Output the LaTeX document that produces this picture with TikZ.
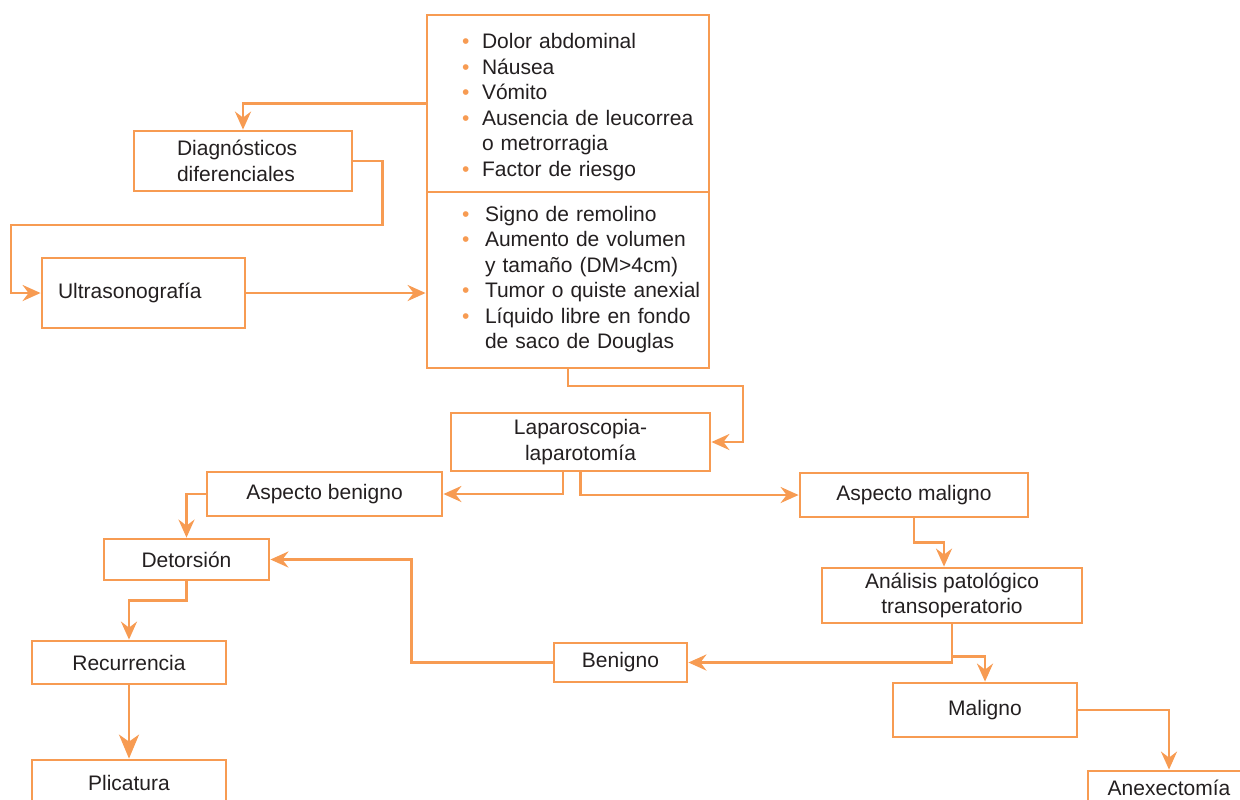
\documentclass[tikz,border=0pt]{standalone}
\usepackage{fontspec}
\setmainfont{Liberation Sans}
\usepackage{tikz}
\usetikzlibrary{positioning}
\usetikzlibrary{arrows.meta}
\definecolor{naranja}{RGB}{247,155,82}
\definecolor{texto}{HTML}{231F20}
\newcommand{\pto}{\makebox[10pt][l]{\textcolor{naranja}{\textbullet}}}
\tikzset{
  caja/.style={draw=naranja, line width=1.4pt, text=texto, align=center, inner sep=0pt,
    font=\fontsize{10.5}{12.75}\selectfont},
  flecha/.style={draw=naranja, line width=1.4pt, -{Stealth[length=9pt,width=8pt,inset=3pt]}},
  flechag/.style={flecha, -{Stealth[length=12pt,width=10pt,inset=3.5pt]}},
}

\begin{document}
\begin{tikzpicture}[x=0.5pt,y=-0.5pt]
\useasboundingbox (0,0) rectangle (1240,799);
\clip (0,0) rectangle (1240,799);
% cuadro clinico y hallazgos
\node[caja, text width=106pt, inner xsep=17.5pt, minimum height=88.5pt, align=left] (sint) at (568,103.5)
  {\noindent\raisebox{-2pt}[\height][\depth]{\begin{tabular}{@{}l@{}}
   \pto Dolor abdominal\\
   \pto Náusea\\
   \pto Vómito\\
   \pto Ausencia de leucorrea\\
   \hspace*{10pt}o metrorragia\\
   \pto Factor de riesgo
   \end{tabular}}};
\node[caja, text width=106pt, inner xsep=17.5pt, minimum height=88pt, align=left, below=-1.4pt of sint] (eco)
  {\noindent\begin{tabular}{@{}l@{}}
   \pto\hspace{1.5pt}Signo de remolino\\
   \pto\hspace{1.5pt}Aumento de volumen\\
   \hspace*{11.5pt}y tamaño (DM>4cm)\\
   \pto\hspace{1.5pt}Tumor o quiste anexial\\
   \pto\hspace{1.5pt}Líquido libre en fondo\\
   \hspace*{11.5pt}de saco de Douglas
   \end{tabular}};
\node[caja, text width=66pt, inner xsep=21.5pt, minimum height=30pt, align=left] (dif) at (243,161) {Diagnósticos\\diferenciales};
\node[caja, text width=85.5pt, inner xsep=8pt, minimum height=35pt, align=left] (ultra) at (143.5,293) {Ultrasonografía};
\node[caja, minimum width=129.5pt, minimum height=29pt] (lap) at (580.5,442) {Laparoscopia-\\laparotomía};
\node[caja, minimum width=117.5pt, minimum height=22pt] (benA) at (324.5,494) {Aspecto benigno};
\node[caja, minimum width=114pt, minimum height=22pt] (malA) at (914,495) {Aspecto maligno};
\node[caja, minimum width=82.5pt, minimum height=20.5pt] (det) at (186.5,559.5) {Detorsión};
\node[caja, minimum width=130pt, minimum height=27.5pt] (anal) at (952,595.5) {Análisis patológico\\transoperatorio};
\node[caja, minimum width=97pt, minimum height=21.5pt] (rec) at (129,662.5) {Recurrencia};
\node[caja, minimum width=66.5pt, minimum height=19.5pt] (ben) at (620.5,662.5) {Benigno};
\node[caja, minimum width=92pt, minimum height=27pt] (mal) at (985,710) {Maligno};
\node[caja, minimum width=97pt, minimum height=23pt] (pli) at (129,783) {Plicatura};
\node[caja, minimum width=81pt, minimum height=17pt] (anex) at (1169,788) {Anexectomía};
% conexiones
\draw[flecha] (sint.west) -| (dif.north);
\draw[flecha] (dif.east) -- ++(29,0) |- (11,225) |- (ultra.west);
\draw[flecha] (ultra.east) -- (ultra.east -| eco.west);
\draw[flecha] (eco.south) |- (743,386) |- (lap.east);
\draw[flecha] ([xshift=-8.75pt]lap.south) |- (benA.east);
\draw[flecha] (lap.south) |- (malA.west);
\draw[flecha] (benA.west) -| (det.north);
\draw[flecha] (malA.south) -- ++(0,24) -| ([xshift=-4pt]anal.north);
\draw[flecha] (anal.south) |- (ben.east);
\draw[flecha] (anal.south) -- ++(0,32) -| (mal.north);
\draw[flecha] (ben.west) -- ++(-141,0) |- (det.east);
\draw[flecha] (det.south) -- ++(0,19) -| (rec.north);
\draw[flechag] (rec.south) -- (pli.north);
\draw[flecha] (mal.east) -| (anex.north);
\end{tikzpicture}
\end{document}
